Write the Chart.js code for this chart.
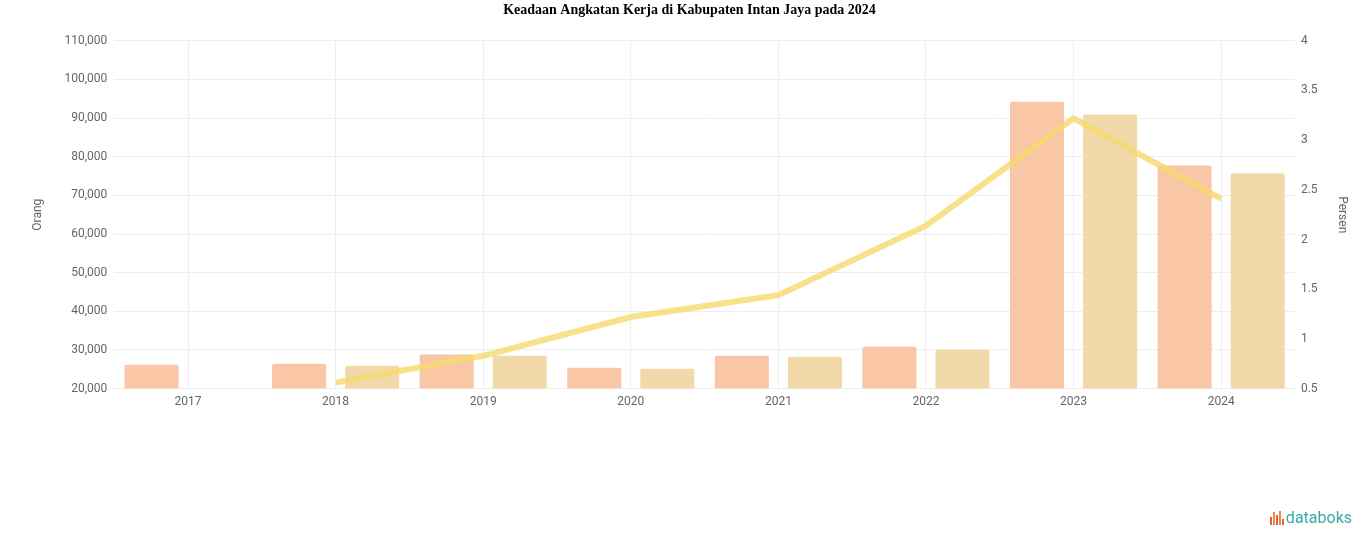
<!DOCTYPE html>
<html>
<head>
<meta charset="utf-8">
<script src="https://cdn.jsdelivr.net/npm/chart.js@4"></script>
<style>
  html, body { margin: 0; padding: 0; background: #fff; }
  #wrap { position: relative; width: 1366px; height: 547px; }
  .logo {
    position: absolute; right: 14px; bottom: 20px;
    font-family: Roboto, "Noto Sans", sans-serif; font-size: 16px;
    color: #3aa9a3; display: flex; align-items: flex-end; gap: 2px;
  }
  .logo .ic { display: flex; align-items: flex-end; gap: 1px; height: 14px; margin-bottom: 2px; }
  .logo .ic i { display: block; width: 2px; background: #ee5a3c; }
</style>
</head>
<body>
<div id="wrap">
  <canvas id="chart" width="1366" height="547"></canvas>
  <div class="logo">
    <span class="ic"><i style="height:8px"></i><i style="height:13px;background:#f08a3c"></i><i style="height:10px"></i><i style="height:14px;background:#f08a3c"></i><i style="height:6px"></i></span>
    <span>databoks</span>
  </div>
</div>
<script>
const years = ['2017', '2018', '2019', '2020', '2021', '2022', '2023', '2024'];
// orang
const angkatanKerja = [26200, 26400, 28800, 25400, 28500, 30800, 94200, 77700];
const bekerja = [null, 25900, 28500, 25150, 28250, 30050, 90900, 75700];
// persen
const tpt = [null, 0.56, 0.83, 1.22, 1.44, 2.14, 3.22, 2.41];

const tickFont = { family: 'Roboto, "Noto Sans", sans-serif', size: 12 };

const ctx = document.getElementById('chart').getContext('2d');

new Chart(ctx, {
    data: {
        labels: years,
        datasets: [
            {
                type: 'line',
                label: 'Tingkat Pengangguran Terbuka',
                data: tpt,
                yAxisID: 'y1',
                borderColor: 'rgba(246, 218, 110, 0.8)',
                borderWidth: 6,
                pointRadius: 0,
                tension: 0,
                order: 0
            },
            {
                type: 'bar',
                label: 'Angkatan Kerja',
                data: angkatanKerja,
                yAxisID: 'y',
                backgroundColor: '#f9c6a6',
                borderRadius: 2,
                categoryPercentage: 0.99,
                barPercentage: 0.74,
                order: 1
            },
            {
                type: 'bar',
                label: 'Bekerja',
                data: bekerja,
                yAxisID: 'y',
                backgroundColor: '#f1d9a9',
                borderRadius: 2,
                categoryPercentage: 0.99,
                barPercentage: 0.74,
                order: 1
            }
        ]
    },
    options: {
        responsive: false,
        animation: false,
        layout: {
            padding: { left: 19, right: 6, top: 0, bottom: 132 }
        },
        plugins: {
            legend: { display: false },
            tooltip: { enabled: false },
            title: {
                display: true,
                text: 'Keadaan Angkatan Kerja di Kabupaten Intan Jaya pada 2024',
                color: '#000',
                font: { family: '"Liberation Serif", "Times New Roman", serif', size: 14, weight: 'bold' },
                padding: { top: 2, bottom: 22 }
            }
        },
        scales: {
            x: {
                offset: true,
                grid: { offset: false, color: '#eeeeee', drawTicks: false },
                border: { display: false },
                ticks: { color: '#666', font: tickFont, padding: 6 }
            },
            y: {
                position: 'left',
                min: 20000,
                max: 110000,
                grid: { color: '#eeeeee', drawTicks: false },
                border: { display: false },
                ticks: {
                    stepSize: 10000,
                    color: '#666',
                    font: tickFont,
                    padding: 7,
                    callback: function(value) {
                        return value.toLocaleString('en-US');
                    }
                },
                title: { display: true, text: 'Orang', color: '#666', font: tickFont, padding: 12 }
            },
            y1: {
                position: 'right',
                min: 0.5,
                max: 4,
                grid: { display: false, drawTicks: false },
                border: { display: false },
                ticks: {
                    stepSize: 0.5,
                    color: '#666',
                    font: tickFont,
                    padding: 6,
                    callback: function(value) {
                        return String(value);
                    }
                },
                title: { display: true, text: 'Persen', color: '#666', font: tickFont, padding: 11 }
            }
        }
    }
});
</script>
</body>
</html>
